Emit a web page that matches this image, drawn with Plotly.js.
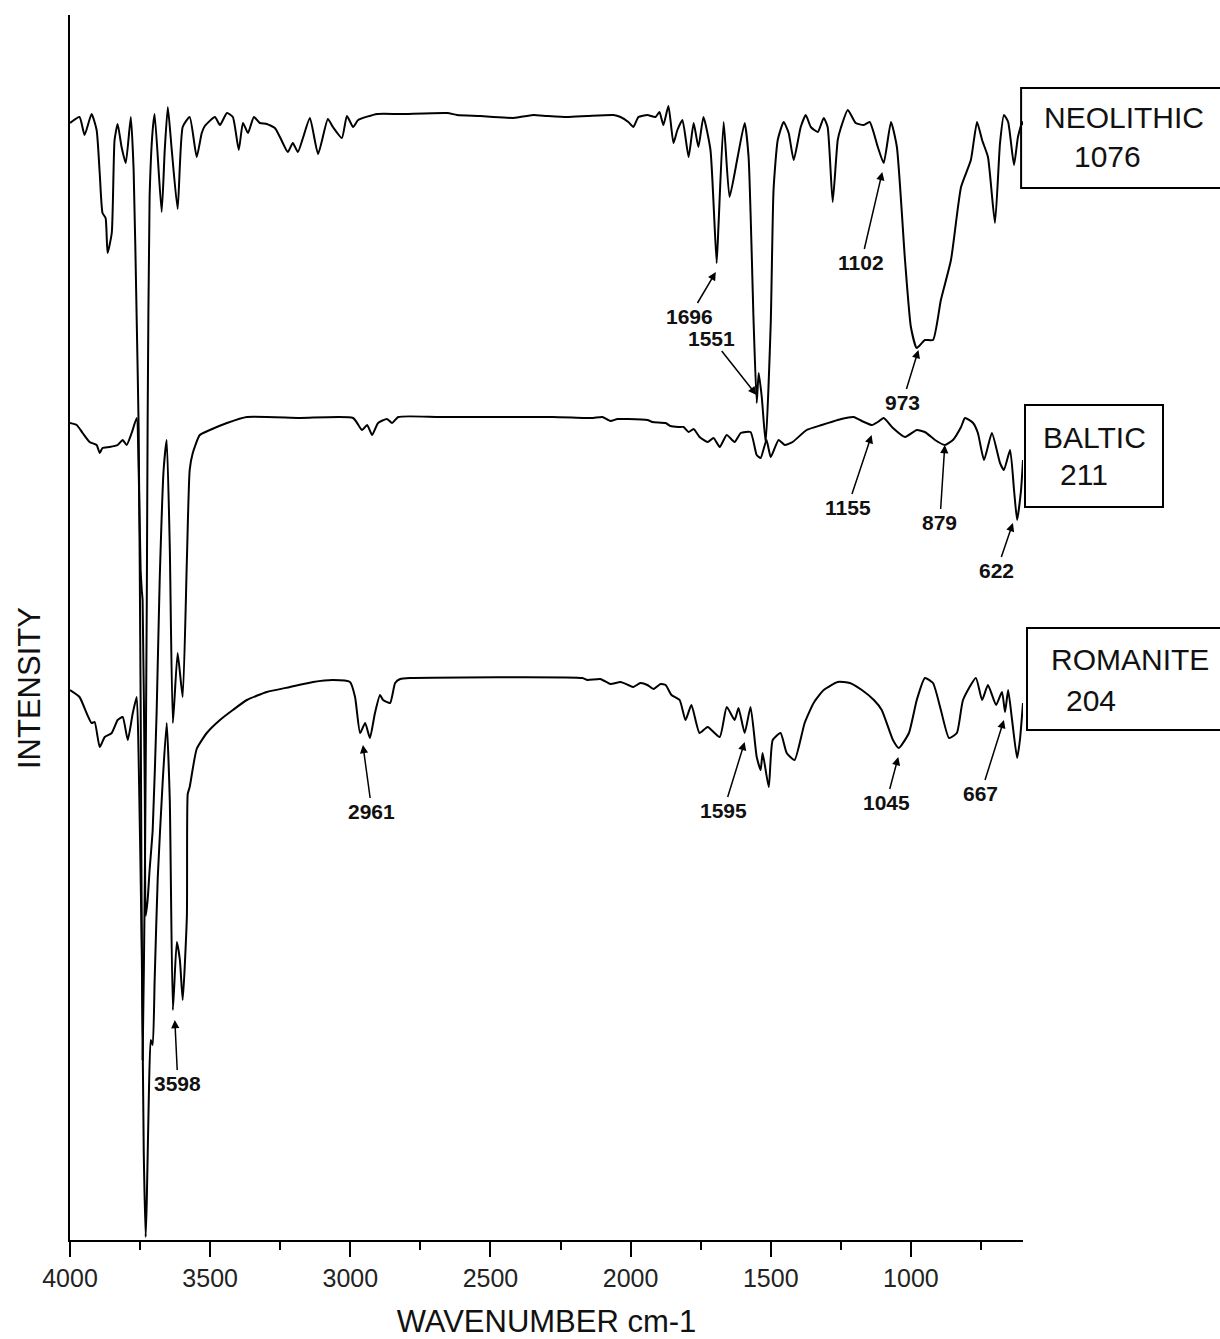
<!DOCTYPE html>
<html>
<head>
<meta charset="utf-8">
<script src="https://cdn.plot.ly/plotly-3.0.1.min.js"></script>
<style>
  html, body { margin: 0; padding: 0; background: #fff; }
  #chart { width: 1220px; height: 1339px; }
</style>
</head>
<body>
<div id="chart"></div>
<script>
// ---- data (wavenumber in cm-1, intensity in arbitrary units) ----
const seriesNames = ["NEOLITHIC", "BALTIC", "ROMANITE"];
const sampleIds = ["1076", "211", "204"];

const neoX = [4000,3966,3948,3923,3905,3894,3884,3873,3866,3851,3841,3830,3816,3801,3783,3773,3762,3755,3748,3741,3733,3726,3723,3716,3705,3698,3673,3662,3651,3637,3616,3598,3573,3548,3530,3519,3483,3465,3440,3419,3398,3383,3365,3344,3323,3298,3269,3251,3223,3205,3187,3169,3144,3115,3080,3062,3030,3012,2990,2972,2904,2822,2654,2619,2536,2490,2419,2394,2347,2297,2226,2154,2061,2036,2008,1990,1972,1940,1911,1897,1883,1865,1847,1833,1815,1793,1775,1758,1740,1715,1693,1686,1668,1647,1618,1593,1579,1561,1550,1543,1532,1518,1500,1490,1475,1454,1436,1418,1393,1375,1357,1332,1311,1297,1279,1261,1250,1225,1197,1168,1147,1118,1097,1071,1050,1021,1000,979,950,921,893,857,821,786,764,746,725,700,682,668,653,632,618,603,600];
const neoY = [1117,1123,1105,1126,1110,1067,1027,1022,987,1007,1100,1116,1093,1077,1123,1070,920,810,540,180,360,640,820,1043,1110,1126,1028,1090,1133,1090,1031,1113,1123,1083,1107,1114,1123,1115,1127,1123,1090,1117,1107,1123,1117,1116,1112,1103,1088,1097,1088,1102,1122,1086,1121,1113,1102,1124,1113,1120,1126,1126,1127,1125,1124,1123,1122,1123,1125,1124,1123,1124,1125,1123,1118,1113,1123,1125,1123,1128,1115,1134,1097,1110,1120,1083,1117,1093,1123,1090,977,1017,1118,1043,1083,1117,1083,917,837,867,843,797,917,1050,1100,1118,1107,1080,1113,1125,1113,1108,1122,1113,1038,1100,1112,1130,1117,1115,1118,1093,1077,1118,1093,980,913,892,900,900,940,980,1053,1080,1118,1100,1083,1017,1097,1125,1118,1075,1103,1118,1115];

const balX = [4000,3976,3955,3930,3905,3894,3884,3859,3830,3812,3798,3780,3762,3755,3748,3744,3741,3733,3730,3723,3716,3705,3691,3680,3666,3655,3644,3633,3616,3598,3583,3573,3562,3537,3501,3440,3369,3180,2990,2958,2940,2922,2901,2869,2851,2829,2679,2279,2168,2133,2101,2072,2047,2008,1940,1922,1875,1858,1829,1811,1793,1775,1754,1725,1704,1682,1657,1629,1607,1572,1550,1536,1515,1500,1472,1450,1422,1372,1318,1261,1232,1204,1175,1139,1118,1097,1064,1021,979,950,914,879,850,821,807,778,761,739,711,682,668,646,632,621,607,600];
const balY = [817,815,807,798,795,787,792,793,795,800,795,807,822,770,670,650,640,440,324,340,370,410,527,660,770,800,693,517,587,543,680,770,787,805,810,817,823,822,822,810,815,805,817,821,817,823,823,823,822,822,823,819,821,821,820,818,817,814,813,813,808,811,803,798,802,793,805,798,807,808,785,782,800,783,800,795,798,810,815,820,822,823,819,815,818,822,812,803,810,808,800,795,800,813,822,817,807,780,807,777,770,790,750,720,750,780];

const romX = [4000,3966,3941,3923,3912,3894,3876,3851,3830,3812,3794,3776,3762,3755,3744,3737,3730,3726,3719,3712,3705,3698,3687,3669,3655,3644,3633,3619,3608,3598,3583,3580,3573,3548,3512,3465,3419,3369,3298,3215,3133,3062,3001,2983,2965,2947,2930,2912,2894,2883,2858,2840,2822,2787,2172,2154,2108,2072,2036,2008,1990,1965,1940,1918,1893,1875,1854,1825,1804,1783,1754,1725,1682,1657,1629,1615,1593,1572,1550,1536,1529,1507,1493,1465,1443,1415,1379,1347,1311,1261,1218,1175,1132,1104,1064,1043,1007,979,950,921,893,864,836,814,768,746,725,696,675,664,653,639,621,611,600];
const romY = [550,543,527,517,518,493,503,507,520,523,500,527,543,480,290,90,3,40,140,200,195,260,362,460,517,440,230,298,280,240,324,446,453,491,507,520,530,540,548,553,558,560,558,543,507,517,502,527,545,540,537,557,561,562,562,560,561,556,558,555,553,557,555,551,556,555,545,540,520,535,507,513,503,533,520,532,507,533,483,470,487,453,500,507,487,480,517,537,550,558,557,550,540,530,500,492,507,540,562,557,530,502,507,540,562,540,555,535,548,528,550,520,482,500,537];

// axis ticks
const xTicks = [4000, 3500, 3000, 2500, 2000, 1500, 1000];
const xMinorTicks = [3750, 3250, 2750, 2250, 1750, 1250, 750];

// peak labels: [label, wavenumber at arrow tip, intensity at arrow tip]
const peakLabels = ["1696", "1551", "1102", "973", "1155", "879", "622", "2961", "3598", "1595", "1045", "667"];
const peakTipX   = [1696, 1551, 1102, 973, 1140, 879, 636, 2955, 3626, 1593, 1045, 668];
const peakTipY   = [968, 845, 1068, 890, 805, 795, 717, 495, 220, 498, 483, 520];

// ---- layout helpers (positions / styles) ----
const peakOffsets = [[-26,44],[-45,-57],[-21,90],[-16,52],[-24,72],[-5,77],[-16,47],[9,66],[3,63],[-21,68],[-12,45],[-23,73]];

const FONT = "Liberation Sans, Arial, Helvetica, sans-serif";
const lineStyle = {color: "#000", width: 2, shape: "spline", smoothing: 0.5};

const traces = [
  {x: neoX, y: neoY, name: seriesNames[0]},
  {x: balX, y: balY, name: seriesNames[1]},
  {x: romX, y: romY, name: seriesNames[2]}
].map(t => Object.assign(t, {type: "scatter", mode: "lines", line: lineStyle, hoverinfo: "skip"}));

const annotations = peakLabels.map((lab, i) => ({
  x: peakTipX[i], y: peakTipY[i], xref: "x", yref: "y",
  text: "<b>" + lab + "</b>",
  showarrow: true, arrowhead: 2, arrowsize: 1.1, arrowwidth: 1.5, arrowcolor: "#000",
  ax: peakOffsets[i][0], ay: peakOffsets[i][1],
  font: {family: FONT, size: 21, color: "#111"}
}));

// sample boxes (paper coords)
const boxes = [
  {x0: 0.998, x1: 1.25, y0: 0.8588, y1: 0.9404},
  {x0: 1.0021, x1: 1.1469, y0: 0.5984, y1: 0.6816},
  {x0: 1.0042, x1: 1.25, y0: 0.4163, y1: 0.4996}
];
const nameLabelPos = [[1.0199, 0.9167], [1.0189, 0.6555], [1.0273, 0.4735]];
const idLabelPos = [[1.0514, 0.8841], [1.0367, 0.6245], [1.0430, 0.4408]];

seriesNames.forEach((nm, i) => {
  annotations.push({xref: "paper", yref: "paper", x: nameLabelPos[i][0], y: nameLabelPos[i][1],
    xanchor: "left", yanchor: "middle", text: nm, showarrow: false,
    font: {family: FONT, size: 30, color: "#111"}});
  annotations.push({xref: "paper", yref: "paper", x: idLabelPos[i][0], y: idLabelPos[i][1],
    xanchor: "left", yanchor: "middle", text: sampleIds[i], showarrow: false,
    font: {family: FONT, size: 30, color: "#111"}});
});

// y-axis title placed as rotated text (sits lower than the plot centre in the reference)
annotations.push({xref: "paper", yref: "paper", x: 0, y: 0.4506, xshift: -41,
  xanchor: "center", yanchor: "middle", textangle: -90, text: "INTENSITY", showarrow: false,
  font: {family: FONT, size: 31, color: "#111"}});

const shapes = boxes.map(b => ({type: "rect", xref: "paper", yref: "paper",
  x0: b.x0, x1: b.x1, y0: b.y0, y1: b.y1, line: {color: "#000", width: 2}, fillcolor: "rgba(0,0,0,0)"}));

const layout = {
  width: 1220, height: 1339,
  margin: {l: 70, r: 197, t: 15, b: 99, pad: 0},
  paper_bgcolor: "#fff", plot_bgcolor: "#fff",
  showlegend: false,
  font: {family: FONT, color: "#111"},
  xaxis: {
    range: [4000, 600], autorange: false,
    showline: true, linecolor: "#000", linewidth: 2,
    showgrid: false, zeroline: false,
    ticks: "outside", ticklen: 15, tickwidth: 2, tickcolor: "#000",
    tickmode: "array", tickvals: xTicks, ticktext: xTicks.map(String),
    tickfont: {family: FONT, size: 25, color: "#222"},
    minor: {tickmode: "array", tickvals: xMinorTicks, ticks: "outside", ticklen: 8, tickwidth: 2, tickcolor: "#000", showgrid: false},
    title: {text: "WAVENUMBER cm-1", font: {family: FONT, size: 31, color: "#111"}, standoff: 22},
    automargin: false
  },
  yaxis: {
    range: [0, 1225], autorange: false,
    showline: true, linecolor: "#000", linewidth: 2,
    showgrid: false, zeroline: false,
    ticks: "", showticklabels: false,
    title: {text: ""},
    automargin: false
  },
  annotations: annotations,
  shapes: shapes
};

Plotly.newPlot("chart", traces, layout, {staticPlot: true, displayModeBar: false});
</script>
</body>
</html>
